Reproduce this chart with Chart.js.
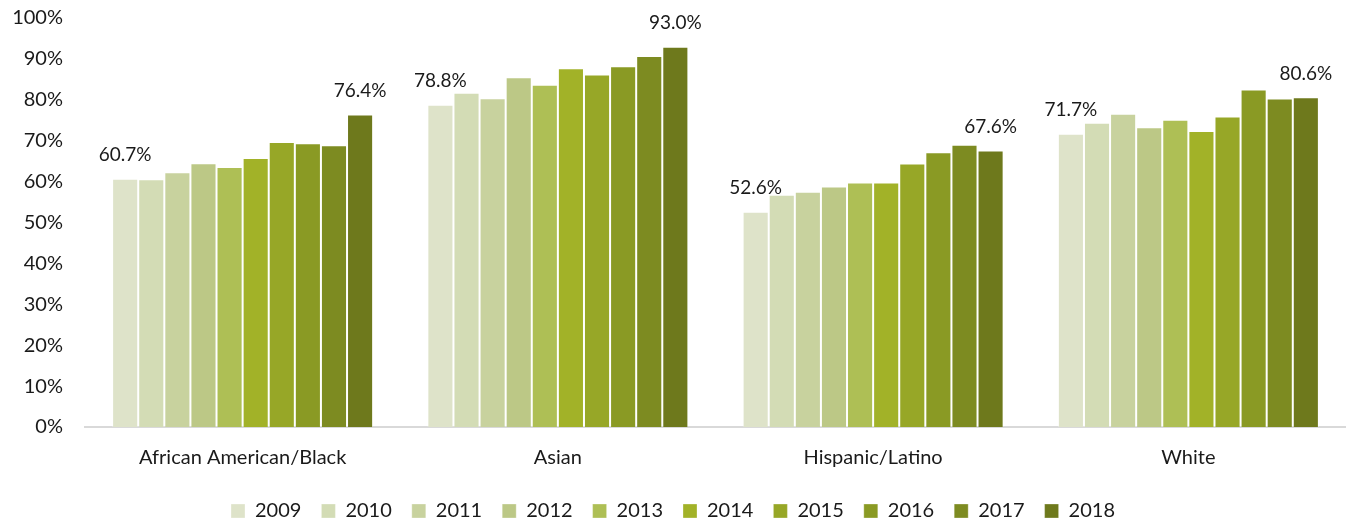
<!DOCTYPE html>
<html>
<head>
<meta charset="utf-8">
<title>Graduation rate by group</title>
<script src="https://cdn.jsdelivr.net/npm/chart.js@4/dist/chart.umd.min.js"></script>
<style>
  html, body { margin: 0; padding: 0; background: #fff; }
  #wrap { width: 1346px; height: 525px; }
</style>
</head>
<body>
<div id="wrap"><canvas id="groupChart"></canvas></div>
<script>
// categories and years
var groups = ["African American/Black", "Asian", "Hispanic/Latino", "White"];
var years = ["2009", "2010", "2011", "2012", "2013", "2014", "2015", "2016", "2017", "2018"];

// values per year, one entry per group
var y2009 = [60.7, 78.8, 52.6, 71.7];
var y2010 = [60.6, 81.7, 56.8, 74.4];
var y2011 = [62.3, 80.4, 57.5, 76.6];
var y2012 = [64.5, 85.5, 58.8, 73.3];
var y2013 = [63.6, 83.7, 59.8, 75.1];
var y2014 = [65.8, 87.7, 59.8, 72.4];
var y2015 = [69.7, 86.2, 64.4, 75.9];
var y2016 = [69.4, 88.2, 67.2, 82.5];
var y2017 = [68.9, 90.7, 69.0, 80.3];
var y2018 = [76.4, 93.0, 67.6, 80.6];

var yTicks = [0, 10, 20, 30, 40, 50, 60, 70, 80, 90, 100];

var colors = ["#dee3c9", "#d3dcb5", "#c8d29e", "#bcc886", "#aebf55",
              "#a2b228", "#97a727", "#8a9a24", "#7d8b21", "#6e791c"];

var allValues = [y2009, y2010, y2011, y2012, y2013, y2014, y2015, y2016, y2017, y2018];

var font = "Lato, 'Liberation Sans', sans-serif";
var textColor = "#1a1a1a";

// labels only on the first and last year
var endLabels = {
    id: 'endLabels',
    afterDatasetsDraw: function(chart) {
        var ctx = chart.ctx;
        var last = chart.data.datasets.length - 1;
        ctx.save();
        ctx.font = "19px " + font;
        ctx.fillStyle = textColor;
        ctx.textAlign = 'center';
        ctx.textBaseline = 'bottom';
        [0, last].forEach(function(di) {
            var meta = chart.getDatasetMeta(di);
            meta.data.forEach(function(bar, i) {
                var v = chart.data.datasets[di].data[i];
                ctx.fillText(v.toFixed(1) + '%', bar.x, bar.y - 14);
            });
        });
        ctx.restore();
    }
};

var datasets = years.map(function(yr, i) {
    return {
        label: yr,
        data: allValues[i],
        backgroundColor: colors[i],
        borderColor: 'rgba(255,255,255,0.3)',
        borderWidth: 1,
        borderSkipped: 'bottom',
        categoryPercentage: 0.828,
        barPercentage: 1.0
    };
});

var ctx = document.getElementById('groupChart').getContext('2d');
var groupChart = new Chart(ctx, {
    type: 'bar',
    data: { labels: groups, datasets: datasets },
    options: {
        responsive: true,
        maintainAspectRatio: false,
        animation: false,
        layout: { padding: { top: 18, right: 0, left: 0, bottom: -6 } },
        plugins: {
            tooltip: { enabled: false },
            legend: {
                position: 'bottom',
                labels: {
                    boxWidth: 14,
                    boxHeight: 14,
                    padding: 20,
                    color: textColor,
                    font: { family: font, size: 20 }
                }
            }
        },
        scales: {
            x: {
                grid: { display: false, drawTicks: false },
                border: { display: true, color: '#d9d9d9', width: 2 },
                ticks: { padding: 19, color: textColor, font: { family: font, size: 20 } },
                afterFit: function(s) { s.height = 54; }
            },
            y: {
                min: 0,
                max: 100,
                afterBuildTicks: function(s) {
                    s.ticks = yTicks.map(function(v) { return { value: v }; });
                },
                grid: { display: false, drawTicks: false },
                border: { display: false },
                ticks: {
                    padding: 22,
                    color: textColor,
                    font: { family: font, size: 20 },
                    callback: function(v) { return v + '%'; }
                },
                // fixed width, and no extra room above the 100% line
                afterFit: function(s) { s.width = 85; s.paddingTop = 0; s.paddingBottom = 0; }
            }
        }
    },
    plugins: [endLabels]
});
</script>
</body>
</html>
